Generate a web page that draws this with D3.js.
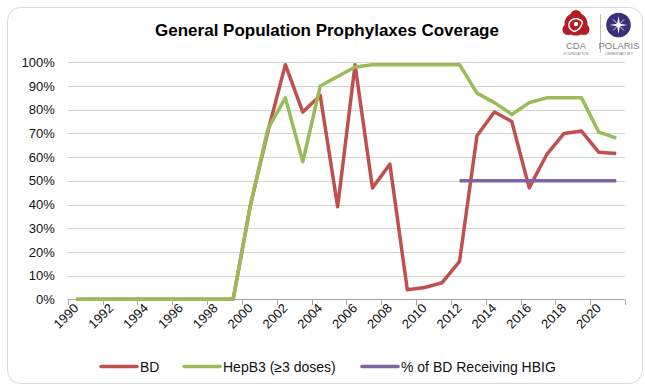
<!DOCTYPE html>
<html>
<head>
<meta charset="utf-8">
<script src="https://cdn.jsdelivr.net/npm/d3@7"></script>
<style>
  html, body { margin: 0; padding: 0; background: #fff; }
  svg { display: block; }
  text { font-family: "Liberation Sans", Arial, sans-serif; }
</style>
</head>
<body>
<svg id="chart" width="645" height="387"></svg>
<script>
// Coverage by year, 1990–2021 (fractions of 1)
const years = d3.range(1990, 2022);
const bdValues = [
  0, 0, 0, 0, 0, 0, 0, 0, 0, 0,
  0.40, 0.71, 0.99, 0.79, 0.86, 0.39, 0.99, 0.47, 0.57, 0.04,
  0.05, 0.07, 0.16, 0.69, 0.79, 0.75, 0.47, 0.61, 0.70, 0.71,
  0.62, 0.615
];
const hepB3Values = [
  0, 0, 0, 0, 0, 0, 0, 0, 0, 0,
  0.40, 0.72, 0.85, 0.58, 0.90, 0.94, 0.98, 0.99, 0.99, 0.99,
  0.99, 0.99, 0.99, 0.87, 0.83, 0.78, 0.83, 0.85, 0.85, 0.85,
  0.705, 0.68
];
const hbigYears = d3.range(2012, 2022);
const hbigValues = [0.50, 0.50, 0.50, 0.50, 0.50, 0.50, 0.50, 0.50, 0.50, 0.50];
const yTickValues = [0, 0.1, 0.2, 0.3, 0.4, 0.5, 0.6, 0.7, 0.8, 0.9, 1.0];
const xTickYears = years.filter(y => y % 2 === 0);

const seriesNames = ["BD", "HepB3 (\u22653 doses)", "% of BD Receiving HBIG"];
const seriesColors = ["#c0504d", "#9bbb59", "#8064a2"];

const svg = d3.select("#chart");

// outer frame
svg.append("rect")
  .attr("x", 7.5).attr("y", 7.5)
  .attr("width", 635).attr("height", 376)
  .attr("rx", 13).attr("ry", 13)
  .attr("fill", "none")
  .attr("stroke", "#d9d9d9")
  .attr("stroke-width", 1);

// title
svg.append("text")
  .attr("x", 327).attr("y", 36)
  .attr("text-anchor", "middle")
  .attr("font-size", 17)
  .attr("font-weight", "bold")
  .attr("fill", "#000")
  .text("General Population Prophylaxes Coverage");

// scales
const x = d3.scaleBand().domain(years).range([67.7, 625]).paddingInner(0).paddingOuter(0);
const y = d3.scaleLinear().domain([0, 1]).range([299.3, 62.3]);
const cx = yr => x(yr) + x.bandwidth() / 2;

// horizontal gridlines
svg.append("g")
  .selectAll("line")
  .data(yTickValues.filter(v => v > 0))
  .join("line")
  .attr("x1", 67.7).attr("x2", 625)
  .attr("y1", d => Math.round(y(d)) + 0.5)
  .attr("y2", d => Math.round(y(d)) + 0.5)
  .attr("stroke", "#d4d4d4")
  .attr("stroke-width", 1);

// y axis labels
const yAxis = d3.axisLeft(y)
  .tickValues(yTickValues)
  .tickFormat(d3.format(".0%"))
  .tickSize(0)
  .tickPadding(13);
const gy = svg.append("g").attr("transform", "translate(67.7,0)").call(yAxis);
gy.select(".domain").remove();
gy.selectAll("text")
  .attr("font-size", 13)
  .attr("fill", "#111")
  .attr("font-family", "'Liberation Sans', Arial, sans-serif");

// x axis line and ticks at category boundaries
const gx = svg.append("g");
gx.append("line")
  .attr("x1", 67.7).attr("x2", 625)
  .attr("y1", 299.5).attr("y2", 299.5)
  .attr("stroke", "#a6a6a6");
const boundaries = xTickYears.map(yr => x(yr)).concat([625]);
gx.selectAll("line.tick")
  .data(boundaries)
  .join("line")
  .attr("class", "tick")
  .attr("x1", d => Math.round(d) + 0.5).attr("x2", d => Math.round(d) + 0.5)
  .attr("y1", 299.5).attr("y2", 305)
  .attr("stroke", "#a6a6a6");
gx.selectAll("text")
  .data(xTickYears)
  .join("text")
  .attr("transform", d => `translate(${cx(d) + 3},${309}) rotate(-45)`)
  .attr("text-anchor", "end")
  .attr("font-size", 13)
  .attr("fill", "#111")
  .text(d => d);

// series lines, drawn in series order so HepB3 sits above BD
const line = d3.line().x(d => cx(d[0])).y(d => y(d[1]));
const seriesData = [
  years.map((yr, i) => [yr, bdValues[i]]),
  years.map((yr, i) => [yr, hepB3Values[i]]),
  hbigYears.map((yr, i) => [yr, hbigValues[i]])
];
svg.append("g")
  .selectAll("path")
  .data([0, 1, 2])
  .join("path")
  .attr("d", i => line(seriesData[i]))
  .attr("fill", "none")
  .attr("stroke", i => seriesColors[i])
  .attr("stroke-width", 3.5)
  .attr("stroke-linejoin", "round")
  .attr("stroke-linecap", "butt");

// legend
const legendItems = [
  { x: 101, w: 36 },
  { x: 184, w: 36 },
  { x: 362, w: 36 }
];
const lg = svg.append("g");
legendItems.forEach((it, i) => {
  lg.append("line")
    .attr("x1", it.x).attr("x2", it.x + it.w)
    .attr("y1", 366.5).attr("y2", 366.5)
    .attr("stroke", seriesColors[i])
    .attr("stroke-width", 3.5)
    .attr("stroke-linecap", "round");
  lg.append("text")
    .attr("x", it.x + it.w + 3).attr("y", 371.5)
    .attr("font-size", 14)
    .attr("fill", "#111")
    .text(seriesNames[i]);
});

// organisation marks, top right
const logo = svg.append("g");
// CDA emblem: red trefoil with white swirls
const cda = logo.append("g").attr("transform", "translate(576,24)");
cda.append("circle").attr("r", 11.5).attr("fill", "#b01e23");
[[0, -8.5], [8, 5.5], [-8, 5.5]].forEach(p => {
  cda.append("circle").attr("cx", p[0]).attr("cy", p[1]).attr("r", 5.5).attr("fill", "#b01e23");
});
cda.append("path")
  .attr("d", "M-6.5,-2 Q0,-9 6.5,-2 M6.5,-2 Q4.5,6.5 -2,7.5 M-2,7.5 Q-9,4.5 -6.5,-2")
  .attr("fill", "none").attr("stroke", "#fff").attr("stroke-width", 1.4);
cda.append("circle").attr("r", 2.2).attr("fill", "#fff");
logo.append("text").attr("x", 576).attr("y", 49)
  .attr("text-anchor", "middle").attr("font-size", 9.5).attr("fill", "#7f7f7f").text("CDA");
logo.append("text").attr("x", 576).attr("y", 55)
  .attr("text-anchor", "middle").attr("font-size", 3.8).attr("fill", "#7f7f7f").text("FOUNDATION");
logo.append("line").attr("x1", 600.5).attr("x2", 600.5).attr("y1", 14).attr("y2", 53)
  .attr("stroke", "#bfbfbf").attr("stroke-width", 1);
// Polaris emblem: purple disc with a white star
const pol = logo.append("g").attr("transform", "translate(618.5,25)");
pol.append("circle").attr("r", 12.3).attr("fill", "#3c2e7a");
pol.append("path")
  .attr("d", "M0,-9 L1.3,-1.3 L9,0 L1.3,1.3 L0,9 L-1.3,1.3 L-9,0 L-1.3,-1.3 Z")
  .attr("fill", "#fff");
pol.append("path")
  .attr("d", "M-5.5,-5.5 L5.5,5.5 M5.5,-5.5 L-5.5,5.5")
  .attr("stroke", "#fff").attr("stroke-width", 0.8);
pol.append("circle").attr("r", 2.2).attr("fill", "#fff");
logo.append("text").attr("x", 619).attr("y", 49)
  .attr("text-anchor", "middle").attr("font-size", 9.5).attr("fill", "#7f7f7f").text("POLARIS");
logo.append("text").attr("x", 619).attr("y", 55)
  .attr("text-anchor", "middle").attr("font-size", 3.8).attr("fill", "#7f7f7f").text("OBSERVATORY");
</script>
</body>
</html>
